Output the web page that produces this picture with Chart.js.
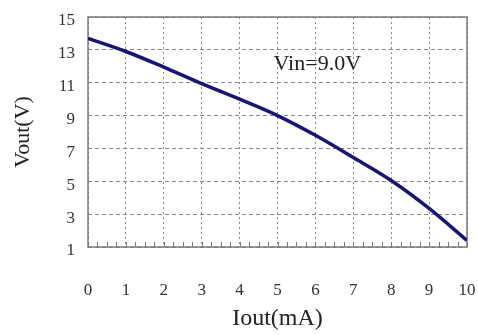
<!DOCTYPE html>
<html>
<head>
<meta charset="utf-8">
<script src="https://cdn.jsdelivr.net/npm/chart.js@4"></script>
<style>
  html, body { margin: 0; padding: 0; background: #fff; }
  #wrap { width: 478px; height: 335px; }
</style>
</head>
<body>
<div id="wrap"><canvas id="c" width="478" height="335"></canvas></div>
<script>
// ---- data ----
const ioutMA = [0, 1, 2, 3, 4, 5, 6, 7, 8, 9, 10];
const voutV  = [13.7, 12.9, 11.95, 10.95, 10.0, 9.0, 7.8, 6.45, 5.05, 3.35, 1.4];
const xTicks = [0, 1, 2, 3, 4, 5, 6, 7, 8, 9, 10];
const yTicks = [1, 3, 5, 7, 9, 11, 13, 15];
const xTitle = 'Iout(mA)';
const yTitle = 'Vout(V)';
const noteText = 'Vin=9.0V';
const noteAt = { x: 6.05, y: 12.15 };
const minorStep = 0.25;

const serif = '"Liberation Serif", "DejaVu Serif", serif';

const framePlugin = {
  id: 'frame',
  beforeDatasetsDraw(chart) {
    const { ctx, chartArea: a } = chart;
    const xs = chart.scales.x;
    ctx.save();
    // minor ticks along the bottom axis
    ctx.strokeStyle = '#777';
    ctx.lineWidth = 1;
    ctx.beginPath();
    for (let v = xs.min; v <= xs.max + 1e-9; v += minorStep) {
      const px = Math.round(xs.getPixelForValue(v)) + 0.5;
      ctx.moveTo(px, a.bottom);
      ctx.lineTo(px, a.bottom - 5);
    }
    ctx.stroke();
    // frame
    ctx.strokeStyle = '#7a7a7a';
    ctx.lineWidth = 1.5;
    ctx.strokeRect(a.left, a.top, a.right - a.left, a.bottom - a.top);
    ctx.restore();
  },
  afterDatasetsDraw(chart) {
    const { ctx } = chart;
    const xs = chart.scales.x, ys = chart.scales.y;
    ctx.save();
    ctx.font = '22px ' + serif;
    ctx.fillStyle = '#222';
    ctx.textAlign = 'center';
    ctx.textBaseline = 'middle';
    ctx.fillText(noteText, xs.getPixelForValue(noteAt.x), ys.getPixelForValue(noteAt.y));
    ctx.restore();
  }
};

new Chart(document.getElementById('c'), {
  type: 'line',
  data: {
    labels: ioutMA,
    datasets: [{
      data: ioutMA.map((x, i) => ({ x, y: voutV[i] })),
      borderColor: '#16167a',
      borderWidth: 3.5,
      pointRadius: 0,
      cubicInterpolationMode: 'monotone',
      fill: false
    }]
  },
  options: {
    responsive: false,
    animation: false,
    devicePixelRatio: 1,
    layout: { padding: { top: 17, right: 11, bottom: 0, left: 0 } },
    plugins: { legend: { display: false }, tooltip: { enabled: false } },
    scales: {
      x: {
        type: 'linear',
        min: 0, max: 10,
        afterFit(s) { s.height = 88; },
        afterBuildTicks(s) { s.ticks = xTicks.map(v => ({ value: v })); },
        grid: { color: '#8a8a8a', lineWidth: 1, drawTicks: true, tickLength: 31, tickColor: 'rgba(0,0,0,0)' },
        border: { display: false, dash: [2, 3] },
        ticks: { color: '#333', padding: 2, font: { family: serif, size: 17 } },
        title: { display: true, text: xTitle, color: '#222', padding: { top: 0, bottom: 2 }, font: { family: serif, size: 24 } }
      },
      y: {
        type: 'linear',
        min: 1, max: 15,
        afterFit(s) { s.width = 88; },
        afterBuildTicks(s) { s.ticks = yTicks.map(v => ({ value: v })); },
        grid: { color: '#8a8a8a', lineWidth: 1, drawTicks: true, tickLength: 11, tickColor: 'rgba(0,0,0,0)' },
        border: { display: false, dash: [4, 3] },
        ticks: { color: '#333', padding: 2, labelOffset: 4, font: { family: serif, size: 17 } },
        title: { display: true, text: yTitle, color: '#222', padding: { top: 10, bottom: 0 }, font: { family: serif, size: 22 } }
      }
    }
  },
  plugins: [framePlugin]
});
</script>
</body>
</html>
